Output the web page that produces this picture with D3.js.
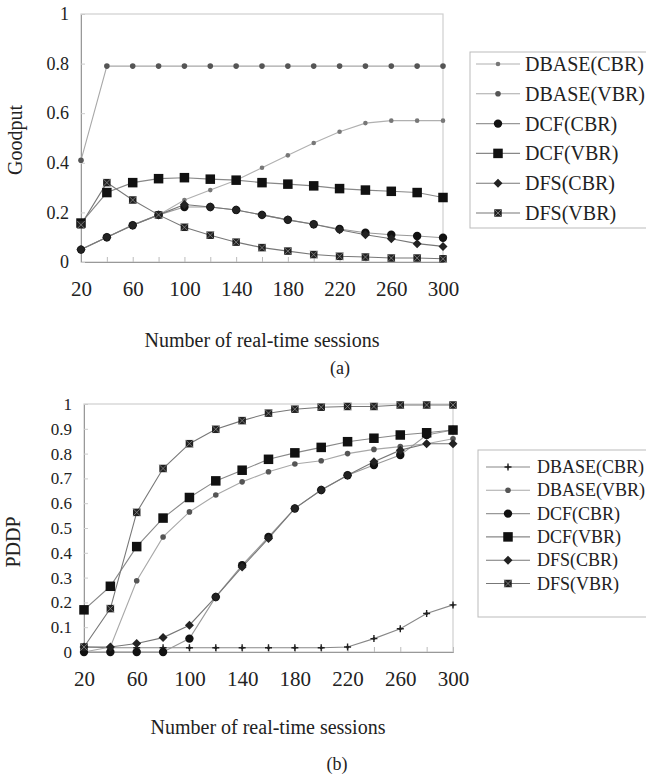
<!DOCTYPE html>
<html><head><meta charset="utf-8">
<script src="https://cdn.jsdelivr.net/npm/d3@7"></script>
<style>body{margin:0;background:#fff}svg{display:block}</style>
</head><body>
<svg id="c" width="646" height="777"></svg>
<script>
const sessions = [20,40,60,80,100,120,140,160,180,200,220,240,260,280,300];
const xTickLabels = [20,60,100,140,180,220,260,300];
const seriesNames = ["DBASE(CBR)","DBASE(VBR)","DCF(CBR)","DCF(VBR)","DFS(CBR)","DFS(VBR)"];

// (a) Goodput
const goodDbaseCbr = [0.05,0.10,0.15,0.19,0.25,0.29,0.33,0.38,0.43,0.48,0.525,0.56,0.57,0.57,0.57];
const goodDbaseVbr = [0.41,0.79,0.79,0.79,0.79,0.79,0.79,0.79,0.79,0.79,0.79,0.79,0.79,0.79,0.79];
const goodDcfCbr   = [0.05,0.10,0.148,0.19,0.222,0.222,0.21,0.19,0.17,0.152,0.133,0.118,0.11,0.105,0.098];
const goodDcfVbr   = [0.157,0.28,0.32,0.336,0.34,0.334,0.33,0.32,0.314,0.307,0.296,0.29,0.285,0.28,0.26];
const goodDfsCbr   = [0.05,0.10,0.148,0.19,0.232,0.222,0.21,0.19,0.17,0.152,0.13,0.11,0.094,0.074,0.063];
const goodDfsVbr   = [0.15,0.32,0.25,0.19,0.14,0.108,0.08,0.058,0.044,0.03,0.023,0.02,0.016,0.016,0.013];
const goodTicks = [0,0.2,0.4,0.6,0.8,1];

// (b) PDDP
const pddpDbaseCbr = [0.02,0.017,0.017,0.017,0.017,0.017,0.017,0.017,0.017,0.017,0.02,0.054,0.094,0.155,0.19];
const pddpDbaseVbr = [0.0,0.02,0.287,0.464,0.565,0.633,0.686,0.727,0.758,0.771,0.80,0.817,0.828,0.84,0.86];
const pddpDcfCbr   = [0.0,0.0,0.0,0.0,0.054,0.222,0.35,0.464,0.579,0.653,0.713,0.754,0.794,0.875,0.895];
const pddpDcfVbr   = [0.17,0.265,0.425,0.54,0.623,0.69,0.733,0.777,0.803,0.825,0.848,0.862,0.875,0.884,0.895];
const pddpDfsCbr   = [0.02,0.02,0.034,0.058,0.108,0.222,0.343,0.458,0.579,0.653,0.713,0.767,0.814,0.84,0.84];
const pddpDfsVbr   = [0.02,0.175,0.563,0.74,0.84,0.898,0.933,0.963,0.979,0.987,0.99,0.99,0.996,0.996,0.996];
const pddpTicks = [0,0.1,0.2,0.3,0.4,0.5,0.6,0.7,0.8,0.9,1];

const styles = [
  {line:"#b0b0b0", mark:"dot",  size:2.3, fill:"#777"},
  {line:"#a8a8a8", mark:"dot",  size:2.8, fill:"#555"},
  {line:"#999",    mark:"dot",  size:4.2, fill:"#111"},
  {line:"#888",    mark:"sq",   size:9.5, fill:"#111"},
  {line:"#777",    mark:"dia",  size:4.5, fill:"#222"},
  {line:"#777",    mark:"xsq",  size:7.5, fill:"#222"}
];
const stylesB = styles.map((s,i)=> i===0 ? {line:"#888", mark:"plus", size:3.5, fill:"#222"} : s);

const svg = d3.select("#c");
const FONT = "'Liberation Serif','Times New Roman',serif";

function drawMarker(g, st, x, y){
  const s = st.size;
  if(st.mark==="dot") g.append("circle").attr("cx",x).attr("cy",y).attr("r",s).attr("fill",st.fill);
  else if(st.mark==="sq") g.append("rect").attr("x",x-s/2).attr("y",y-s/2).attr("width",s).attr("height",s).attr("fill",st.fill);
  else if(st.mark==="dia") g.append("path").attr("d",`M${x},${y-s}L${x+s},${y}L${x},${y+s}L${x-s},${y}Z`).attr("fill",st.fill);
  else if(st.mark==="xsq"){
    g.append("rect").attr("x",x-s/2).attr("y",y-s/2).attr("width",s).attr("height",s).attr("fill",st.fill);
    g.append("path").attr("d",`M${x-s/2},${y-s/2}L${x+s/2},${y+s/2}M${x+s/2},${y-s/2}L${x-s/2},${y+s/2}`).attr("stroke","#888").attr("stroke-width",0.8);
  } else if(st.mark==="plus"){
    g.append("path").attr("d",`M${x-s},${y}L${x+s},${y}M${x},${y-s}L${x},${y+s}`).attr("stroke",st.fill).attr("stroke-width",1.4);
    g.append("circle").attr("cx",x).attr("cy",y).attr("r",1.5).attr("fill",st.fill);
  }
}

function chart(cfg){
  const x = d3.scaleLinear().domain([20,300]).range([cfg.x0,cfg.x1]);
  const y = d3.scaleLinear().domain([0,1]).range([cfg.y0,cfg.y1]);
  const g = svg.append("g");
  g.append("rect").attr("x",cfg.x0).attr("y",cfg.y1).attr("width",cfg.x1-cfg.x0).attr("height",cfg.y0-cfg.y1)
    .attr("fill","none").attr("stroke","#cfcfcf").attr("stroke-width",1.2);
  const xa = g.append("g").attr("transform",`translate(0,${cfg.y0})`)
    .call(d3.axisBottom(x).tickValues(sessions).tickSize(-5).tickPadding(19)
      .tickFormat(d => xTickLabels.includes(d) ? d : ""));
  xa.select(".domain").attr("stroke","#999");
  xa.selectAll(".tick line").attr("stroke","#bbb");
  xa.selectAll("text").attr("font-family",FONT).attr("font-size",cfg.xfs).attr("fill","#222");
  const ya = g.append("g").attr("transform",`translate(${cfg.x0},0)`)
    .call(d3.axisLeft(y).tickValues(cfg.ticks).tickSize(-4).tickPadding(cfg.ypad).tickFormat(d3.format("~g")));
  ya.select(".domain").attr("stroke","#999");
  ya.selectAll(".tick line").attr("stroke","#ccc");
  ya.selectAll("text").attr("font-family",FONT).attr("font-size",cfg.yfs).attr("fill","#222");
  const line = d3.line().x((d,i)=>x(sessions[i])).y(d=>y(d));
  cfg.data.forEach((arr,k)=>{
    g.append("path").datum(arr).attr("d",line).attr("fill","none").attr("stroke",cfg.st[k].line).attr("stroke-width",1.1);
  });
  cfg.data.forEach((arr,k)=>{
    arr.forEach((v,i)=>drawMarker(g,cfg.st[k],x(sessions[i]),y(v)));
  });
  g.append("text").attr("x",cfg.xtX).attr("y",cfg.xtY).attr("text-anchor","middle")
    .attr("font-family",FONT).attr("font-size",cfg.tfs).attr("fill","#222").text("Number of real-time sessions");
  g.append("text").attr("transform",`translate(${cfg.ytX},${cfg.ytY}) rotate(-90)`).attr("text-anchor","middle")
    .attr("dominant-baseline","middle").attr("font-family",FONT).attr("font-size",cfg.tfs).attr("fill","#222").text(cfg.ytitle);
  g.append("text").attr("x",cfg.capX).attr("y",cfg.capY).attr("text-anchor","middle")
    .attr("font-family",FONT).attr("font-size",18).attr("fill","#222").text(cfg.cap);
  const L = cfg.leg;
  g.append("rect").attr("x",L.x).attr("y",L.y).attr("width",L.w).attr("height",L.h)
    .attr("fill","#fff").attr("stroke","#bbb").attr("stroke-width",1);
  seriesNames.forEach((n,k)=>{
    const yy = L.y0 + k*L.dy;
    g.append("line").attr("x1",L.lx0).attr("x2",L.lx1).attr("y1",yy).attr("y2",yy).attr("stroke",cfg.st[k].line).attr("stroke-width",1.1);
    drawMarker(g,cfg.st[k],(L.lx0+L.lx1)/2,yy);
    g.append("text").attr("x",L.tx).attr("y",yy).attr("dominant-baseline","central")
      .attr("font-family",FONT).attr("font-size",L.fs).attr("fill","#222").text(n);
  });
}

chart({x0:81,x1:443,y0:262,y1:14,ticks:goodTicks,data:[goodDbaseCbr,goodDbaseVbr,goodDcfCbr,goodDcfVbr,goodDfsCbr,goodDfsVbr],
  st:styles, xfs:21, yfs:18, ypad:12, tfs:20, xtX:262, xtY:347, ytX:17, ytY:140, ytitle:"Goodput", capX:340, capY:374, cap:"(a)",
  leg:{x:470,y:52,w:180,h:176,y0:64,dy:29.8,lx0:476,lx1:520,tx:525,fs:20}});

chart({x0:84,x1:453,y0:652,y1:404,ticks:pddpTicks,data:[pddpDbaseCbr,pddpDbaseVbr,pddpDcfCbr,pddpDcfVbr,pddpDfsCbr,pddpDfsVbr],
  st:stylesB, xfs:21, yfs:17, ypad:12, tfs:20, xtX:268, xtY:734, ytX:15, ytY:542, ytitle:"PDDP", capX:337, capY:770, cap:"(b)",
  leg:{x:478,y:450,w:172,h:167,y0:467,dy:23.3,lx0:486,lx1:530,tx:537,fs:18}});
</script>
</body></html>
